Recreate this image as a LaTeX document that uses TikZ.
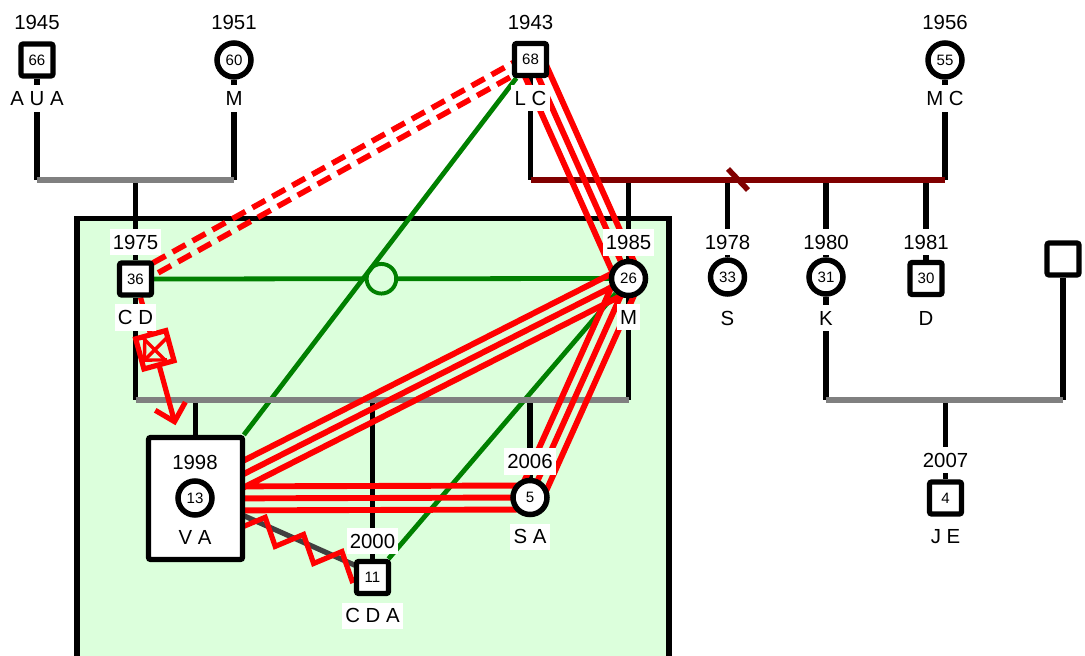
\documentclass[tikz,border=0pt]{standalone}
\usepackage{fontspec}
\setmainfont{Liberation Sans}
\usetikzlibrary{calc,arrows.meta,decorations.pathmorphing}
\definecolor{hhgreen}{RGB}{220,255,220}
\definecolor{tiegreen}{RGB}{0,128,0}
\definecolor{marred}{RGB}{128,0,0}
\definecolor{sibgray}{RGB}{128,128,128}
\definecolor{cutgray}{RGB}{64,64,64}
\pgfdeclarelayer{back}
\pgfdeclarelayer{edges}
\pgfsetlayers{back,edges,main}

\tikzset{
  male/.style={draw, line width=3.7pt, rounded corners=1.5pt, fill=white,
    minimum size=0.8cm, inner sep=0pt, font=\fontsize{10.7}{12}\selectfont},
  female/.style={draw, circle, line width=3.9pt, fill=white,
    minimum size=0.85cm, inner sep=0pt, font=\fontsize{10.7}{12}\selectfont},
  focus/.style={draw, line width=3.7pt, rounded corners=1.5pt, fill=white,
    minimum width=2.35cm, minimum height=3.05cm},
  tag/.style={fill=white, inner xsep=0.08cm, inner ysep=0pt,
    minimum height=0.65cm, font=\fontsize{14.5}{16}\selectfont},
  kin/.style={line width=3.9pt},
  union/.style={line width=3.9pt, draw=sibgray},
  tie/.style={line width=3.4pt, draw=tiegreen},
  hop/.style={circle, draw=tiegreen, line width=2.8pt, fill=hhgreen,
    minimum size=0.74cm, inner sep=0pt},
  hostile/.style={draw=red, line width=4.2pt, to path={
    ($(\tikztostart)!0.3cm!90:(\tikztotarget)$) -- ($(\tikztotarget)!0.3cm!-90:(\tikztostart)$)
    (\tikztostart.center) -- (\tikztotarget.center)
    ($(\tikztostart)!0.3cm!-90:(\tikztotarget)$) -- ($(\tikztotarget)!0.3cm!90:(\tikztostart)$)}},
  cutoff/.style={draw=red, line width=4pt, dash pattern=on 0.37cm off 0.2cm, to path={
    ($(\tikztostart)!0.14cm!90:(\tikztotarget)$) -- ($(\tikztotarget)!0.14cm!-90:(\tikztostart)$)
    ($(\tikztostart)!0.14cm!-90:(\tikztotarget)$) -- ($(\tikztotarget)!0.14cm!90:(\tikztostart)$)}},
  abuse/.style={draw=red, line width=3.7pt, shorten >=0.25cm,
    -{Straight Barb[length=0.4cm, width=0.78cm]}},
  abbox/.style={draw=red, line width=3.7pt, fill=hhgreen, minimum size=0.78cm,
    inner sep=0pt, path picture={
      \draw[red, line width=2.4pt]
        (path picture bounding box.north west) -- (path picture bounding box.south east)
        (path picture bounding box.north east) -- (path picture bounding box.south west);}},
}

\begin{document}
\begin{tikzpicture}[x=0.025cm, y=-0.025cm]
  \useasboundingbox (0,0) rectangle (1085,656);

  % household
  \begin{pgfonlayer}{back}
    \draw[line width=3.7pt, fill=hhgreen] (77,218.5) rectangle (669,659);
  \end{pgfonlayer}

  % grandparents
  \node[male] (p66) at (37,60) {66};
  \node[tag] at ($(p66)+(0,-37.5)$) {1945};
  \node[tag] at ($(p66)+(0,38.5)$) {A U A};
  \node[female] (p60) at (234,60) {60};
  \node[tag] at ($(p60)+(0,-37.5)$) {1951};
  \node[tag] at ($(p60)+(0,38.5)$) {M};
  \node[male] (p68) at (530.5,59.5) {68};
  \node[tag] at ($(p68)+(0,-37.5)$) {1943};
  \node[tag] at ($(p68)+(0,38.5)$) {L C};
  \node[female] (p55) at (945,60) {55};
  \node[tag] at ($(p55)+(0,-37.5)$) {1956};
  \node[tag] at ($(p55)+(0,38.5)$) {M C};

  % parents and siblings
  \node[male] (p36) at (135.5,279) {36};
  \node[tag] at ($(p36)+(0,-37)$) {1975};
  \node[tag] at ($(p36)+(0,38.5)$) {C D};
  \node[female] (p26) at (628.5,278.5) {26};
  \node[tag] at ($(p26)+(0,-36)$) {1985};
  \node[tag] at ($(p26)+(0,38.5)$) {M};
  \node[female] (p33) at (727.5,277) {33};
  \node[tag] at ($(p33)+(0,-35)$) {1978};
  \node[tag] at ($(p33)+(0,41)$) {S};
  \node[female] (p31) at (826,277) {31};
  \node[tag] at ($(p31)+(0,-35)$) {1980};
  \node[tag] at ($(p31)+(0,41)$) {K};
  \node[male] (p30) at (926,278.5) {30};
  \node[tag] at ($(p30)+(0,-36.5)$) {1981};
  \node[tag] at ($(p30)+(0,39.5)$) {D};
  \node[male] (pu) at (1063,259) {};

  % children
  \node[focus] (va) at (195.5,498.5) {};
  \node[female] (p13) at (195,498) {13};
  \node[tag] at ($(p13)+(0,-36)$) {1998};
  \node[tag] at ($(p13)+(0,39)$) {V A};
  \node[male] (p11) at (372.5,577.5) {11};
  \node[tag] at ($(p11)+(0,-36.5)$) {2000};
  \node[tag] at ($(p11)+(0,38)$) {C D A};
  \node[female] (p5) at (530,497.5) {5};
  \node[tag] at ($(p5)+(0,-36)$) {2006};
  \node[tag] at ($(p5)+(0,39)$) {S A};
  \node[male] (p4) at (945.5,498) {4};
  \node[tag] at ($(p4)+(0,-38)$) {2007};
  \node[tag] at ($(p4)+(0,39)$) {J E};

  \coordinate (u66) at (136,180);
  \coordinate (u68) at (738,180);
  \coordinate (u36) at (380,400);
  \coordinate (u31) at (945,400);

  \begin{pgfonlayer}{edges}
    % emotional ties
    \draw[tie] (p36) -- node[hop]{} (p26);
    \draw[tie] (p68) -- (va);
    \draw[tie] (p26) -- (p11);

    % kinship
    \draw[kin] (p66) -- (p66 |- u66) (p60) -- (p60 |- u66) (p36 |- u66) -- (p36);
    \draw[union] (p66 |- u66) -- (p60 |- u66);
    \draw[kin] (p68) -- (p68 |- u68) (p55) -- (p55 |- u68);
    \draw[kin] (p26 |- u68) -- (p26) (p33 |- u68) -- (p33)
      (p31 |- u68) -- (p31) (p30 |- u68) -- (p30);
    \draw[union, draw=marred] (p68 |- u68) -- (p55 |- u68);
    \draw[union, draw=marred] ($(u68)+(-10,-11)$) -- ($(u68)+(10,10)$);
    \draw[kin] (p36) -- (p36 |- u36) (p26) -- (p26 |- u36);
    \draw[kin] (va |- u36) -- (va) (p11 |- u36) -- (p11) (p5 |- u36) -- (p5);
    \draw[union] (p36 |- u36) -- (p26 |- u36);
    \draw[kin] (p31) -- (p31 |- u31) (pu) -- (pu |- u31) (p4 |- u31) -- (p4);
    \draw[union] (p31 |- u31) -- (pu |- u31);

    % conflict
    \draw[cutoff] (p36) to (p68);
    \draw[hostile] (p68) to (p26) (va) to (p26) (va) to (p5) (p26) to (p5);
    \draw[cutgray, line width=3.7pt] ($(va)!0.1cm!90:(p11)$) -- ($(p11)!0.1cm!-90:(va)$);
    \draw[red, line width=3.7pt, decorate, decoration={zigzag, segment length=1.05cm,
      amplitude=0.28cm, pre=lineto, pre length=0.47cm}] (va.center) -- (p11.center);
    \draw[abuse] (p36) -- node[abbox, pos=0.38, sloped]{} (va);
  \end{pgfonlayer}
\end{tikzpicture}
\end{document}
